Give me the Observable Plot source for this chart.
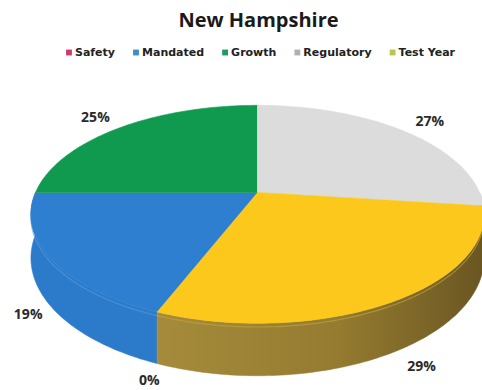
<!DOCTYPE html>
<html><head><meta charset="utf-8">
<script src="https://cdn.jsdelivr.net/npm/d3@7"></script>
<script src="https://cdn.jsdelivr.net/npm/@observablehq/plot@0.6"></script>
<style>html,body{margin:0;padding:0;background:#fff}</style>
</head><body><div id="chart"></div>
<script>
// ---------- data ----------
const title = "New Hampshire";
const categories = ["Safety", "Mandated", "Growth", "Regulatory", "Test Year"];
const values = [0, 19, 25, 27, 29];
const valueLabels = ["0%", "19%", "25%", "27%", "29%"];
const topColors = ["#d0306a", "#2e7fd0", "#0f9a50", "#dcdcdc", "#fbc81b"];
const wallColors = ["#a02050", "#2c7bcb", "#0c7a3e", "#b5b5b5", "url(#wallYellow)"];
const rimColors = ["#c04070", "#5b9bdb", "#2aa860", "#e6e6e6", "#c8a83a"];
const legendColors = ["#d2386c", "#3d8fc4", "#1f9a62", "#b0b0b0", "#b9c84a"];
const firstAtTop = "Regulatory";

// ---------- geometry (3D perspective pie) ----------
const W = 482, H = 390;
const cx = 257, cy = 192, A = 222, B = 104.6, K = 0.2, D = 42;
function proj(theta, r = 1, depth = 0) {
  const u = r * Math.sin(theta), v = -r * Math.cos(theta);
  const s = 1 / (1 - K * v);
  return [cx + A * u * s, cy + (B * v + depth) * s];
}
const ecx = cx, ecy = cy + B * K / (1 - K * K); // centre of projected ellipse
const total = d3.sum(values);
const iTop = categories.indexOf(firstAtTop);
const before = d3.sum(values.slice(0, iTop));
const rot = -before / total * 2 * Math.PI;
let acc = 0;
const slices = categories.map((c, i) => {
  const a0 = rot + acc / total * 2 * Math.PI;
  acc += values[i];
  const a1 = rot + acc / total * 2 * Math.PI;
  return {c, i, a0, a1};
});
function arc(a0, a1, r, depth) {
  const n = Math.max(2, Math.ceil(Math.abs(a1 - a0) / (Math.PI / 180)));
  return d3.range(n + 1).map(j => proj(a0 + (a1 - a0) * j / n, r, depth));
}
const marks = [];
const TAU = 2 * Math.PI;
const rims = [];
// walls (front half only)
slices.forEach(s => {
  if (values[s.i] === 0) return;
  let a0 = ((s.a0 % TAU) + TAU) % TAU, a1 = a0 + (s.a1 - s.a0);
  [[Math.PI / 2, 1.5 * Math.PI], [Math.PI / 2 + TAU, 1.5 * Math.PI + TAU]].forEach(([lo, hi]) => {
    const b0 = Math.max(a0, lo), b1 = Math.min(a1, hi);
    if (b1 <= b0) return;
    const pts = arc(b0, b1, 1, 0).concat(arc(b1, b0, 1, D)).map(([x, y]) => ({x, y}));
    marks.push(Plot.line(pts, {x: "x", y: "y", fill: wallColors[s.i], stroke: wallColors[s.i], strokeWidth: 0.5}));
    rims.push({i: s.i, pts: arc(b0, b1, 1, 3).map(([x, y]) => ({x, y}))});
  });
});
rims.forEach(r => marks.push(Plot.line(r.pts, {x: "x", y: "y", stroke: rimColors[r.i], strokeWidth: 1.2, strokeOpacity: 0.6})));
// tops
slices.forEach(s => {
  if (values[s.i] === 0) return;
  const pts = [[cx, cy]].concat(arc(s.a0, s.a1, 1, 0)).map(([x, y]) => ({x, y}));
  marks.push(Plot.line(pts, {x: "x", y: "y", fill: topColors[s.i], stroke: topColors[s.i], strokeWidth: 0.6}));
});
// value labels: placed just outside the outer rim (below the wall on the front half)
const labelData = slices.map(s => {
  const m = (s.a0 + s.a1) / 2;
  const v = -Math.cos(m);
  const [px, py] = proj(m, 1, v > 0 ? D : 0);
  let dx = px - ecx, dy = py - ecy;
  const len = Math.hypot(dx, dy);
  dx /= len; dy /= len;
  return {x: px + dx * 29 + 10 * Math.max(0, dy), y: py + dy * 20, t: valueLabels[s.i]};
});
marks.push(Plot.text(labelData, {x: "x", y: "y", text: "t", fontFamily: "Open Sans", fontWeight: "bold", fontSize: 14, fill: "#2a2a2a"}));
// title
marks.push(Plot.text([title], {x: () => 258, y: () => 20, text: d => d, fontFamily: "Open Sans", fontWeight: "bold", fontSize: 20, fill: "#1a1a1a"}));
// legend
const ctx = document.createElement("canvas").getContext("2d");
ctx.font = "bold 11px 'DejaVu Sans'";
const sw = 6, gapIn = 3, gapOut = 18;
const widths = categories.map(c => sw + gapIn + ctx.measureText(c).width);
const totalW = d3.sum(widths) + gapOut * (categories.length - 1);
let lx = 260 - totalW / 2;
const legendData = categories.map((c, i) => { const d = {c, x: lx, color: legendColors[i]}; lx += widths[i] + gapOut; return d; });
const ly = 52;
marks.push(Plot.dot(legendData, {x: d => d.x + sw / 2, y: () => ly, symbol: "square", r: 3.3, fill: "color", stroke: null}));
marks.push(Plot.text(legendData, {x: d => d.x + sw + gapIn, y: () => ly, text: "c", textAnchor: "start", fontFamily: "DejaVu Sans", fontWeight: "bold", fontSize: 11, fill: "#222"}));

const svg = Plot.plot({
  width: W, height: H, margin: 0,
  x: {type: "identity", axis: null},
  y: {type: "identity", axis: null},
  color: {type: "identity"},
  marks
});
const ns = "http://www.w3.org/2000/svg";
const defs = document.createElementNS(ns, "defs");
defs.innerHTML = `<linearGradient id="wallYellow" gradientUnits="userSpaceOnUse" x1="165" y1="0" x2="482" y2="0">
<stop offset="0" stop-color="#a48a3a"/><stop offset="0.55" stop-color="#957b30"/><stop offset="1" stop-color="#6a5622"/></linearGradient>`;
svg.insertBefore(defs, svg.firstChild);
document.getElementById("chart").appendChild(svg);
</script></body></html>
